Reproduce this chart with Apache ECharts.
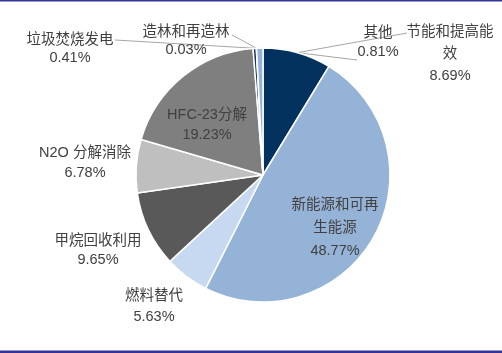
<!DOCTYPE html>
<html>
<head>
<meta charset="utf-8">
<script src="https://cdn.jsdelivr.net/npm/echarts@6/dist/echarts.min.js"></script>
<style>
  html, body { margin: 0; padding: 0; background: #fff; }
  #main { width: 502px; height: 353px; }
</style>
</head>
<body>
<div id="main"></div>
<script>
// slices, clockwise from 12 o'clock
const names = ['节能和提高能效', '新能源和可再生能源', '燃料替代', '甲烷回收利用', 'N2O 分解消除', 'HFC-23分解', '垃圾焚烧发电', '造林和再造林', '其他']
const labelNames = ['节能和提高能\n效', '新能源和可再\n生能源', '燃料替代', '甲烷回收利用', 'N2O 分解消除', 'HFC-23分解', '垃圾焚烧发电', '造林和再造林', '其他']
const values = [8.69, 48.77, 5.63, 9.65, 6.78, 19.23, 0.41, 0.03, 0.81]
const colors = ['#04325f', '#95b3d7', '#c6d9f0', '#595959', '#bfbfbf', '#7f7f7f', '#17375e', '#95b3d7', '#95b3d7']

// where each label sits, and where its leader line ends (null = no line)
const labelPos = [[450, 54], [335, 228], [154, 306], [98, 250], [85, 163], [207, 125], [70, 49], [186, 41], [378, 42]]
const lineEnds = [[407, 33], null, null, null, null, null, [115, 40], [232, 35], [357, 60]]
const lineHeights = [22, 23, 21, 19, 20, 20, 18, 18, 19]

const dom = document.getElementById('main')
const myChart = echarts.init(dom)

const data = names.map((n, i) => ({
  name: n,
  value: values[i],
  itemStyle: { color: colors[i] },
  label: { lineHeight: lineHeights[i] },
  labelLine: { show: lineEnds[i] !== null }
}))

const option = {
  backgroundColor: '#fff',
  animation: false,
  graphic: [
    { type: 'rect', shape: { x: 0, y: 0, width: 502, height: 1.5 }, style: { fill: '#333399' } },
    { type: 'rect', shape: { x: 0, y: 350.5, width: 502, height: 2.5 }, style: { fill: '#333399' } }
  ],
  series: [
    {
      type: 'pie',
      center: [263, 175],
      radius: 127,
      startAngle: 90,
      clockwise: true,
      avoidLabelOverlap: false,
      itemStyle: { borderColor: '#fff', borderWidth: 1.5 },
      label: {
        show: true,
        position: 'outside',
        color: '#404040',
        fontSize: 14.5,
        fontFamily: '"Liberation Sans", "Noto Sans CJK SC", sans-serif',
        align: 'center',
        formatter: p => labelNames[p.dataIndex] + '\n' + values[p.dataIndex].toFixed(2) + '%'
      },
      labelLine: {
        show: false,
        lineStyle: { color: '#a6a6a6', width: 1 }
      },
      labelLayout: p => {
        const pos = labelPos[p.dataIndex]
        const res = { x: pos[0], y: pos[1], align: 'center', verticalAlign: 'middle' }
        const end = lineEnds[p.dataIndex]
        if (end && p.labelLinePoints) {
          res.labelLinePoints = [p.labelLinePoints[0], end]
        }
        return res
      },
      data: data
    }
  ]
}
myChart.setOption(option)
</script>
</body>
</html>
